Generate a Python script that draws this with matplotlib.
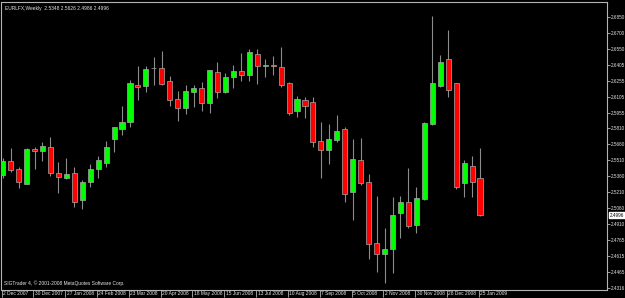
import pandas as pd
import matplotlib
matplotlib.use("Agg")
import matplotlib.pyplot as plt
import matplotlib.transforms as mtransforms

# weekly OHLC, first bar = week of 2 Dec 2007
opens = [2.5372, 2.5503, 2.5428, 2.5288, 2.5615, 2.5596, 2.5634, 2.5391, 2.5344, 2.5391,
         2.5138, 2.5306, 2.5428, 2.5484, 2.5709, 2.5802, 2.5868, 2.6214, 2.6205, 2.6373,
         2.6373, 2.6251, 2.6083, 2.5999, 2.6148, 2.6186, 2.6046, 2.6336, 2.6148, 2.6289,
         2.6345, 2.6307, 2.6504, 2.6396, 2.6397, 2.6382, 2.6233, 2.5971, 2.6074, 2.6055,
         2.5690, 2.5606, 2.5699, 2.5802, 2.5213, 2.5512, 2.5306, 2.4736, 2.4633, 2.4680,
         2.5016, 2.5119, 2.4904, 2.5147, 2.5849, 2.6205, 2.6457, 2.6233, 2.5297, 2.5456,
         2.5348]
highs = [2.5531, 2.5625, 2.5447, 2.5625, 2.5634, 2.5681, 2.5727, 2.5494, 2.5531, 2.5447,
         2.5325, 2.5475, 2.5550, 2.5690, 2.5821, 2.6017, 2.6261, 2.6392, 2.6392, 2.6476,
         2.6532, 2.6298, 2.6158, 2.6214, 2.6214, 2.6242, 2.6354, 2.6429, 2.6326, 2.6401,
         2.6513, 2.6551, 2.6551, 2.6457, 2.6485, 2.6569, 2.6242, 2.6111, 2.6102, 2.6102,
         2.5868, 2.5849, 2.5933, 2.5821, 2.5709, 2.5718, 2.5381, 2.5175, 2.4876, 2.5166,
         2.5175, 2.5437, 2.5260, 2.5868, 2.6859, 2.6495, 2.6728, 2.6233, 2.5512, 2.5550,
         2.5626]
lows = [2.5344, 2.5400, 2.5250, 2.5288, 2.5428, 2.5503, 2.5363, 2.5204, 2.5335, 2.5073,
        2.5054, 2.5260, 2.5344, 2.5447, 2.5587, 2.5746, 2.5821, 2.6074, 2.6148, 2.6214,
        2.6214, 2.6017, 2.5877, 2.5943, 2.6008, 2.5971, 2.5952, 2.6092, 2.6139, 2.6186,
        2.6251, 2.6251, 2.6223, 2.6289, 2.6307, 2.6195, 2.5933, 2.5915, 2.5905, 2.5634,
        2.5344, 2.5475, 2.5681, 2.5119, 2.4951, 2.5278, 2.4586, 2.4465, 2.4362, 2.4455,
        2.4783, 2.4876, 2.4829, 2.5138, 2.5840, 2.6195, 2.6102, 2.5241, 2.5166, 2.5166,
        2.4986]
closes = [2.5503, 2.5419, 2.5306, 2.5615, 2.5596, 2.5643, 2.5391, 2.5353, 2.5381, 2.5119,
          2.5306, 2.5428, 2.5512, 2.5634, 2.5821, 2.5868, 2.6233, 2.6195, 2.6364, 2.6373,
          2.6223, 2.6074, 2.5999, 2.6158, 2.6186, 2.6046, 2.6354, 2.6148, 2.6289, 2.6345,
          2.6307, 2.6523, 2.6392, 2.6399, 2.6393, 2.6214, 2.5952, 2.6083, 2.6017, 2.5681,
          2.5606, 2.5709, 2.5784, 2.5194, 2.5522, 2.5297, 2.4726, 2.4633, 2.4680, 2.4998,
          2.5119, 2.4895, 2.5157, 2.5858, 2.6233, 2.6429, 2.6167, 2.5260, 2.5484, 2.5306,
          2.4996]

price_ticks = [2.6850, 2.6700, 2.6550, 2.6405, 2.6255, 2.6105, 2.5955, 2.5810, 2.5660,
               2.5510, 2.5360, 2.5210, 2.5060, 2.4910, 2.4765, 2.4615, 2.4465, 2.4316]
last_price = 2.4996
title = "EURLFX,Weekly  2.5348 2.5626 2.4986 2.4996"
footer = "SIGTrader 4, \u00a9 2001-2008 MetaQuotes Software Corp."

weeks = pd.date_range("2007-12-02", periods=len(opens), freq="7D")

BG = "#000000"
FRAME = "#b4b4b4"
TXT = "#e6e6e6"
BULL = "#00ff00"
BEAR = "#ff0000"
WICK = "#8c8c8c"
FS = 3.5

plt.rcParams["font.family"] = ["Liberation Sans", "DejaVu Sans"]

fig = plt.figure(figsize=(6.25, 2.98), dpi=100, facecolor=BG)
ax = fig.add_axes([1.5 / 625, 8 / 298, 605 / 625, 288 / 298])
ax.set_facecolor(BG)

xs = list(range(len(opens)))
ax.vlines(xs, lows, highs, color=WICK, linewidth=0.8, zorder=2)

bottoms, heights, colors = [], [], []
for o, c in zip(opens, closes):
    bottoms.append(min(o, c))
    heights.append(max(abs(c - o), 0.00025))
    colors.append(BULL if c >= o else BEAR)
ax.bar(xs, heights, bottom=bottoms, width=0.64, color=colors,
       edgecolor="#a8a8a8", linewidth=0.5, zorder=3)

ax.set_xlim(-0.05, 75.9)
ax.set_ylim(2.4296, 2.6990)

for s in ax.spines.values():
    s.set_color(FRAME)
    s.set_linewidth(0.8)

# price scale on the right
ax.yaxis.tick_right()
ax.set_yticks(price_ticks)
ax.set_yticklabels([f"{v:.4f}" for v in price_ticks])
ax.tick_params(axis="y", colors=FRAME, labelcolor=TXT, labelsize=3.3,
               length=2.2, width=0.6, pad=0.8)

# date scale, every 4th week; tick marks act as separators
tick_idx = list(range(0, len(weeks), 4))
ax.set_xticks([i - 0.15 for i in tick_idx])
ax.set_xticklabels([f"{weeks[i].day} {weeks[i]:%b %Y}" for i in tick_idx])
ax.tick_params(axis="x", colors=FRAME, labelcolor=TXT, labelsize=FS,
               length=5, width=0.6, pad=-4.2)
shift = mtransforms.ScaledTranslation(1.5 / 100, 0, fig.dpi_scale_trans)
for lab in ax.get_xticklabels():
    lab.set_horizontalalignment("left")
    lab.set_transform(lab.get_transform() + shift)

# current price marker
ax.text(1.0055, last_price, f"{last_price:.4f}", transform=ax.get_yaxis_transform(),
        fontsize=3.3, color="black", va="center", ha="left",
        bbox=dict(facecolor="white", edgecolor="white", pad=0.4))

ax.text(0.006, 0.985, title, transform=ax.transAxes, fontsize=FS,
        color=TXT, va="top", ha="left")
ax.text(0.004, 0.014, footer, transform=ax.transAxes, fontsize=FS,
        color=TXT, va="bottom", ha="left")

fig.savefig("out.png", dpi=100, facecolor=BG)
